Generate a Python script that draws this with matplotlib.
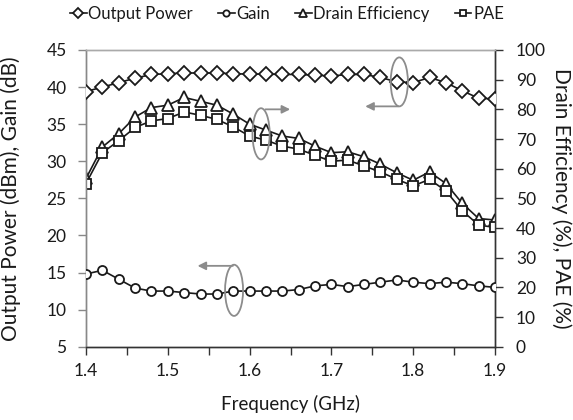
import numpy as np
import matplotlib
matplotlib.use("Agg")
import matplotlib.pyplot as plt
from matplotlib.patches import Ellipse
from matplotlib.ticker import MultipleLocator

plt.rcParams['font.family'] = ['Lato', 'DejaVu Sans']

freq = [1.40, 1.42, 1.44, 1.46, 1.48, 1.50, 1.52, 1.54, 1.56, 1.58, 1.60, 1.62, 1.64,
        1.66, 1.68, 1.70, 1.72, 1.74, 1.76, 1.78, 1.80, 1.82, 1.84, 1.86, 1.88, 1.90]
output_power = [39.4, 40.0, 40.6, 41.2, 41.7, 41.8, 41.9, 41.9, 41.9, 41.8, 41.75, 41.75, 41.7,
                41.7, 41.6, 41.5, 41.7, 41.7, 41.3, 40.7, 40.6, 41.3, 40.6, 39.5, 38.5, 38.4]
gain = [14.8, 15.3, 14.1, 12.9, 12.5, 12.5, 12.3, 12.1, 12.1, 12.5, 12.5, 12.5, 12.5,
        12.7, 13.2, 13.4, 13.1, 13.4, 13.7, 14.0, 13.7, 13.5, 13.7, 13.5, 13.2, 13.0]
drain_eff = [56.7, 67.3, 71.8, 77.4, 80.6, 81.4, 84.0, 82.7, 81.4, 78.4, 75.0, 73.0, 71.0,
             70.2, 67.6, 65.4, 65.7, 64.0, 61.5, 58.6, 56.1, 58.9, 55.0, 48.3, 43.2, 42.7]
pae = [55.0, 65.4, 69.4, 73.9, 76.1, 76.9, 79.1, 78.0, 76.6, 74.1, 71.0, 69.6, 67.6,
       66.6, 64.5, 62.5, 62.9, 60.9, 58.9, 56.4, 54.2, 56.4, 52.5, 45.8, 41.0, 40.2]

labels = ["Output Power", "Gain", "Drain Efficiency", "PAE"]

fig = plt.figure(figsize=(5.73, 4.2), dpi=100)
ax = fig.add_axes([86/573, 1-346.7/420, (495-86)/573, (346.7-50)/420])
ax2 = ax.twinx()

lc = '#1a1a1a'
kw = dict(color=lc, lw=1.2, markerfacecolor='white', markeredgecolor=lc, markeredgewidth=1.3)
l1, = ax.plot(freq, output_power, marker='D', ms=7, zorder=3, **kw)
l2, = ax.plot(freq, gain, marker='o', ms=6.5, zorder=3, **kw)
l3, = ax2.plot(freq, drain_eff, marker='^', ms=8.5, zorder=3, **kw)
l4, = ax2.plot(freq, pae, marker='s', ms=7, zorder=4, **kw)

ax.set_xlim(1.4, 1.9)
ax.set_ylim(5, 45)
ax2.set_ylim(0, 100)
ax.xaxis.set_major_locator(MultipleLocator(0.1))
ax.xaxis.set_minor_locator(MultipleLocator(0.05))
ax.yaxis.set_major_locator(MultipleLocator(5))
ax2.yaxis.set_major_locator(MultipleLocator(10))

tfs = 12.5
lfs = 13.5
tc = '#1a1a1a'
ax.tick_params(axis='x', which='both', direction='out', length=6, width=1, colors='#333333',
               labelsize=tfs, labelcolor=tc, pad=6)
ax.tick_params(axis='y', direction='out', length=6, width=1, colors='#888888',
               labelsize=tfs, labelcolor=tc, pad=8)
ax2.tick_params(axis='y', direction='out', length=6, width=1, colors='#333333',
                labelsize=tfs, labelcolor=tc, pad=9)

for a in (ax, ax2):
    a.spines['top'].set_color('#aaaaaa')
    a.spines['left'].set_color('#888888')
    a.spines['right'].set_color('#333333')
    a.spines['bottom'].set_color('#333333')
    for s in a.spines.values():
        s.set_linewidth(1.0)
ax.set_facecolor('none')
ax.set_zorder(ax2.get_zorder() + 1)

ax.set_xlabel("Frequency (GHz)", fontsize=lfs, color=tc)
ax.set_ylabel("Output Power (dBm), Gain (dB)", fontsize=15, color=tc)
ax2.set_ylabel("Drain Efficiency (%), PAE (%)", fontsize=15, color=tc, rotation=270, va='center')
ax.yaxis.set_label_coords((21 - 86) / 409, 0.5)
ax2.yaxis.set_label_coords((561 - 86) / 409, 0.5)
ax.xaxis.set_label_coords(0.5, -(404 - 346.7) / 296.7)
ax.xaxis.label.set_va('center')

gc = '#8c8c8c'
ell_kw = dict(facecolor='none', edgecolor=gc, lw=1.3, zorder=5)
ax.add_patch(Ellipse((1.783, 40.7), 0.021, 6.6, **ell_kw))
ax.annotate("", xy=(1.738, 37.4), xytext=(1.785, 37.4),
            arrowprops=dict(arrowstyle='-|>', color=gc, lw=1.3, mutation_scale=12), zorder=5)
ax.add_patch(Ellipse((1.614, 33.7), 0.021, 6.9, **ell_kw))
ax.annotate("", xy=(1.653, 37.0), xytext=(1.616, 37.0),
            arrowprops=dict(arrowstyle='-|>', color=gc, lw=1.3, mutation_scale=12), zorder=5)
ax.add_patch(Ellipse((1.581, 12.6), 0.022, 6.9, **ell_kw))
ax.annotate("", xy=(1.533, 15.9), xytext=(1.583, 15.9),
            arrowprops=dict(arrowstyle='-|>', color=gc, lw=1.3, mutation_scale=12), zorder=5)

handles = [l1, l2, l3, l4]
leg = fig.legend(handles, labels, loc='center', bbox_to_anchor=(287 / 573, 1 - 14 / 420), ncol=4,
                 frameon=False, fontsize=12, handlelength=1.0, handletextpad=0.1,
                 columnspacing=1.5, markerscale=0.7, borderpad=0)
for t in leg.get_texts():
    t.set_color(tc)

fig.savefig("out.png", dpi=100)
